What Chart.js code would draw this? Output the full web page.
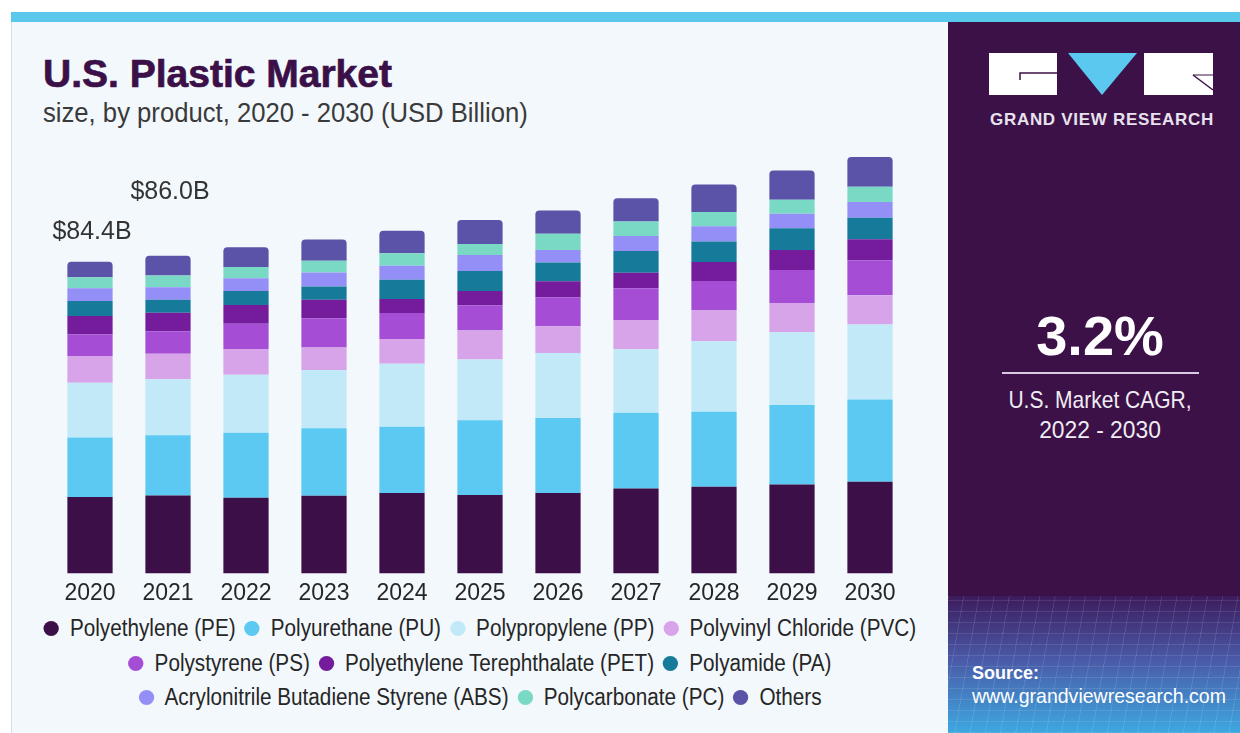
<!DOCTYPE html>
<html>
<head>
<meta charset="utf-8">
<script src="https://cdn.jsdelivr.net/npm/chart.js@4.4.0/dist/chart.umd.min.js"></script>
<style>
  html, body { margin: 0; padding: 0; background: #fff; }
  body { width: 1240px; height: 733px; position: relative; overflow: hidden; font-family: "Liberation Sans", Arial, sans-serif; }
  .abs { position: absolute; white-space: nowrap; line-height: 1; }
  #strip { left: 11px; top: 12px; width: 1229px; height: 10px; background: #5ac8ea; }
  #leftPanel { left: 11px; top: 22px; width: 937px; height: 711px; background: #f3f8fc; border-left: 1px solid #d6dde4; box-sizing: border-box; }
  #rightPanel { left: 948px; top: 22px; width: 292px; height: 711px; background: #3b1147; }
  #rightBottom { left: 948px; top: 596px; width: 292px; height: 137px;
    background:
      repeating-linear-gradient(100deg, rgba(255,255,255,.10) 0 1px, transparent 1px 15px),
      repeating-linear-gradient(0deg, rgba(255,255,255,.10) 0 1px, transparent 1px 11px),
      linear-gradient(#3c1b5c, #4a58a6 45%, #3da8e0);
  }
  #title { left: 43px; top: 54px; font-size: 39px; font-weight: bold; color: #3b0f48; -webkit-text-stroke: 0.7px #3b0f48; }
  #subtitle { left: 43px; top: 100px; font-size: 27px; color: #3a3a3a; transform: scaleX(.95); transform-origin: left; }
  #chartBox { left: 0; top: 0; width: 948px; height: 613px; }
  .legendRow { position: absolute; left: 11px; width: 938px; height: 28px; display: flex; align-items: center; justify-content: center;
    transform: scaleX(.9); transform-origin: center; font-size: 23px; color: #262626; white-space: nowrap; }
  .legendItem { display: flex; align-items: center; margin: 0 5px; }
  .dot { width: 17px; height: 15px; border-radius: 50%; margin-right: 12px; flex: none; }
  .centerText { left: 948px; width: 304px; text-align: center; color: #fff; }
</style>
</head>
<body>
<div class="abs" id="strip"></div>
<div class="abs" id="leftPanel"></div>
<div class="abs" id="rightPanel"></div>
<div class="abs" id="rightBottom"></div>

<div class="abs" id="title">U.S. Plastic Market</div>
<div class="abs" id="subtitle">size, by product, 2020 - 2030 (USD Billion)</div>

<div class="abs" id="chartBox"><canvas id="chart" width="948" height="613"></canvas></div>
<div id="legend"></div>

<!-- logo -->
<svg class="abs" style="left:948px;top:22px" width="292" height="90">
  <rect x="41" y="31" width="68" height="42" fill="#ffffff"/>
  <polyline points="72,58 72,51 109,51" fill="none" stroke="#3b1147" stroke-width="1.5"/>
  <polygon points="120,31 189,31 154,73" fill="#5bc8f0"/>
  <rect x="196" y="31" width="69" height="42" fill="#ffffff"/>
  <polyline points="245,53 265,68" fill="none" stroke="#3b1147" stroke-width="1.5"/>
  <polyline points="245,53 265,53" fill="none" stroke="#3b1147" stroke-width="1"/>
</svg>
<div class="abs" style="left:990px;top:111px;font-size:17px;font-weight:bold;letter-spacing:0.7px;color:#e8e2ee;">GRAND VIEW RESEARCH</div>

<div class="abs centerText" style="top:308px;left:948px;width:304px;font-size:56px;font-weight:bold;">3.2%</div>
<div class="abs" style="left:1002px;top:372px;width:197px;height:2px;background:#d9c9e3;"></div>
<div class="abs centerText" style="top:388px;left:948px;width:304px;font-size:24px;color:#f0ecf3;transform:scaleX(.875);">U.S. Market CAGR,</div>
<div class="abs centerText" style="top:418px;left:948px;width:304px;font-size:24px;color:#f0ecf3;transform:scaleX(.95);">2022 - 2030</div>

<div class="abs" style="left:972px;top:664px;font-size:18px;font-weight:bold;color:#fff;">Source:</div>
<div class="abs" style="left:972px;top:685px;font-size:21px;color:#fff;transform:scaleX(.93);transform-origin:left;">www.grandviewresearch.com</div>

<script>
// data (USD Billion)
const years = ['2020', '2021', '2022', '2023', '2024', '2025', '2026', '2027', '2028', '2029', '2030'];

const polyethylene = [20.7, 21.1, 20.5, 21.0, 21.8, 21.2, 21.8, 23.0, 23.5, 24.1, 24.8];
const polyurethane = [16.1, 16.3, 17.6, 18.3, 17.9, 20.3, 20.3, 20.5, 20.3, 21.5, 22.3];
const polypropylene = [14.8, 15.2, 15.7, 15.8, 17.1, 16.4, 17.6, 17.2, 19.1, 19.7, 20.3];
const polyvinylChloride = [7.3, 6.9, 7.0, 6.1, 6.7, 7.9, 7.2, 7.9, 8.4, 7.9, 7.9];
const polystyrene = [5.8, 6.1, 6.8, 7.9, 7.0, 6.8, 7.9, 8.6, 7.9, 9.0, 9.5];
const pet = [5.0, 5.0, 5.1, 5.0, 3.8, 3.9, 4.3, 4.2, 5.1, 5.4, 5.7];
const polyamide = [4.1, 3.5, 3.8, 3.6, 5.2, 5.4, 5.1, 5.9, 5.6, 5.9, 5.8];
const abs = [3.4, 3.4, 3.4, 3.8, 3.8, 4.3, 3.4, 4.1, 4.1, 3.9, 4.3];
const polycarbonate = [3.0, 3.2, 3.1, 3.2, 3.4, 3.0, 4.4, 3.9, 3.9, 3.8, 4.1];
const others = [4.2, 5.3, 5.3, 5.7, 6.1, 6.5, 6.3, 6.3, 7.4, 7.9, 8.1];

const seriesNames = ['Polyethylene (PE)', 'Polyurethane (PU)', 'Polypropylene (PP)', 'Polyvinyl Chloride (PVC)',
  'Polystyrene (PS)', 'Polyethylene Terephthalate (PET)', 'Polyamide (PA)',
  'Acrylonitrile Butadiene Styrene (ABS)', 'Polycarbonate (PC)', 'Others'];
const totalLabels = ['$84.4B', '$86.0B'];

const seriesValues = [polyethylene, polyurethane, polypropylene, polyvinylChloride, polystyrene,
  pet, polyamide, abs, polycarbonate, others];
const colors = ['#3c0f48', '#5bc9f2', '#c2e9f8', '#d7a4ea', '#a64dd6', '#741c9c', '#167a9a', '#938ff7', '#79d9c5', '#5a53a8'];

const datasets = seriesNames.map(function(name, i) {
    return {
        label: name,
        data: seriesValues[i],
        backgroundColor: colors[i],
        borderWidth: 0,
        borderSkipped: false,
        borderRadius: i === seriesNames.length - 1 ? {topLeft: 4, topRight: 4, bottomLeft: 0, bottomRight: 0} : 0,
        barPercentage: 1,
        categoryPercentage: 0.58,
    };
});

// "$84.4B" style labels above the first bars
const totalLabelPlugin = {
    id: 'totalLabels',
    afterDatasetsDraw(chart) {
        const ctx = chart.ctx;
        const x = chart.scales.x, y = chart.scales.y;
        const lifts = [30, 64];
        ctx.save();
        ctx.font = '25px "Liberation Sans", Arial, sans-serif';
        ctx.fillStyle = '#333333';
        ctx.textAlign = 'center';
        ctx.textBaseline = 'middle';
        totalLabels.forEach(function(txt, i) {
            let sum = 0;
            seriesValues.forEach(function(s) { sum += s[i]; });
            ctx.fillText(txt, x.getPixelForValue(i) + 2, y.getPixelForValue(sum) - lifts[i]);
        });
        ctx.restore();
    }
};

new Chart(document.getElementById('chart'), {
    type: 'bar',
    data: { labels: years, datasets: datasets },
    options: {
        responsive: false,
        animation: false,
        layout: { padding: { left: 51, right: 39, top: 130.3, bottom: 0 } },
        plugins: { legend: { display: false }, tooltip: { enabled: false } },
        scales: {
            x: {
                stacked: true,
                grid: { display: false, drawTicks: false },
                border: { display: false },
                ticks: { color: '#262626', padding: 6, font: { family: '"Liberation Sans", Arial, sans-serif', size: 23 } }
            },
            y: {
                stacked: true,
                display: false,
                min: 0,
                max: 120
            }
        }
    },
    plugins: [totalLabelPlugin]
});

// legend rows (4 / 3 / 3 like the original)
const rowSplit = [[0, 4], [4, 7], [7, 10]];
const rowTops = [614, 649, 683];
const legendEl = document.getElementById('legend');
rowSplit.forEach(function(r, k) {
    const row = document.createElement('div');
    row.className = 'legendRow';
    row.style.top = rowTops[k] + 'px';
    for (let i = r[0]; i < r[1]; i++) {
        const item = document.createElement('span');
        item.className = 'legendItem';
        const dot = document.createElement('span');
        dot.className = 'dot';
        dot.style.background = colors[i];
        const txt = document.createElement('span');
        txt.textContent = seriesNames[i];
        item.appendChild(dot);
        item.appendChild(txt);
        row.appendChild(item);
    }
    legendEl.appendChild(row);
});
</script>
</body>
</html>
